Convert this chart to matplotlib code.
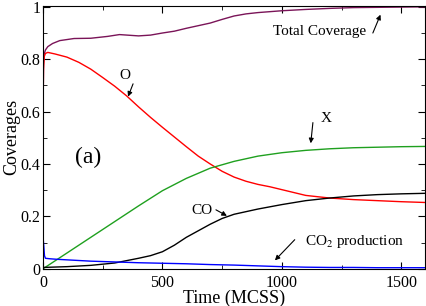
import matplotlib
matplotlib.use("Agg")
import matplotlib.pyplot as plt
from matplotlib.ticker import MultipleLocator

plt.rcParams['font.family'] = ['Liberation Serif', 'DejaVu Serif']
plt.rcParams['mathtext.fontset'] = 'stix'

# Total coverage
t_total = [0, 2, 5, 10, 20, 40, 70, 130, 200, 270, 320, 400, 450, 500, 550, 600,
           650, 700, 750, 800, 850, 900, 1000, 1100, 1200, 1300, 1400, 1500, 1600]
v_total = [0.58, 0.78, 0.82, 0.835, 0.848, 0.86, 0.871, 0.879, 0.88, 0.887, 0.894,
           0.889, 0.892, 0.9, 0.907, 0.918, 0.928, 0.938, 0.952, 0.965, 0.973, 0.978,
           0.985, 0.99, 0.994, 0.997, 0.998, 0.999, 1.0]

# O coverage
t_o = [0, 2, 5, 10, 20, 50, 100, 150, 200, 250, 300, 350, 400, 450, 500, 550, 600,
       650, 700, 750, 800, 850, 900, 950, 1000, 1100, 1200, 1300, 1400, 1500, 1600]
v_o = [0.58, 0.76, 0.81, 0.822, 0.826, 0.82, 0.808, 0.788, 0.762, 0.73, 0.697,
       0.66, 0.618, 0.578, 0.54, 0.503, 0.466, 0.43, 0.40, 0.372, 0.35, 0.334,
       0.322, 0.313, 0.302, 0.28, 0.27, 0.264, 0.26, 0.256, 0.253]

# X coverage
t_x = [0, 100, 200, 300, 400, 500, 600, 700, 800, 900, 1000, 1100, 1200, 1300,
       1400, 1500, 1600]
v_x = [0.0, 0.06, 0.12, 0.18, 0.24, 0.298, 0.345, 0.384, 0.41, 0.43, 0.443, 0.452,
       0.458, 0.462, 0.464, 0.466, 0.467]

# CO coverage
t_co = [0, 100, 200, 300, 400, 450, 500, 550, 600, 650, 700, 750, 800, 900, 1000,
        1100, 1200, 1300, 1400, 1500, 1600]
v_co = [0.005, 0.008, 0.013, 0.022, 0.04, 0.05, 0.065, 0.09, 0.12, 0.145, 0.17,
        0.192, 0.208, 0.228, 0.245, 0.26, 0.27, 0.278, 0.283, 0.286, 0.288]

# CO2 production
t_co2 = [0, 3, 6, 10, 30, 60, 100, 200, 300, 400, 500, 600, 700, 800, 900, 1000,
         1100, 1200, 1300, 1400, 1500, 1600]
v_co2 = [0.122, 0.09, 0.05, 0.04, 0.038, 0.036, 0.034, 0.029, 0.026, 0.023, 0.021,
         0.019, 0.016, 0.014, 0.011, 0.008, 0.006, 0.005, 0.005, 0.004, 0.004, 0.004]

fig = plt.figure(figsize=(4.26, 3.06), dpi=100)
ax = fig.add_axes([0.101, 0.12, 0.897, 0.862])

ax.plot(t_total, v_total, color='#7a1458', lw=1)
ax.plot(t_o, v_o, color='#ff0000', lw=1)
ax.plot(t_x, v_x, color='#1fa01f', lw=1)
ax.plot(t_co, v_co, color='#000000', lw=1)
ax.plot(t_co2, v_co2, color='#0000ff', lw=1)

ax.set_xlim(0, 1600)
ax.set_ylim(-0.002, 1.005)
ax.xaxis.set_major_locator(MultipleLocator(500))
ax.xaxis.set_minor_locator(MultipleLocator(250))
ax.yaxis.set_minor_locator(MultipleLocator(0.1))
ax.set_yticks([0, 0.2, 0.4, 0.6, 0.8, 1.0])
ax.set_yticklabels(['0', '0.2', '0.4', '0.6', '0.8', '1'])
ax.tick_params(which='both', direction='in', top=True, right=True, labelsize=11.5)
ax.tick_params(axis='x', pad=4)
ax.tick_params(axis='y', pad=2)
ax.tick_params(which='major', length=5)
ax.tick_params(which='minor', length=3)

ax.set_xlabel('Time (MCSS)', fontsize=13, labelpad=-1)
ax.set_ylabel('Coverages', fontsize=13, labelpad=0)

arrow = dict(arrowstyle='-|>', color='k', lw=0.8, mutation_scale=7, shrinkA=0, shrinkB=0)
ax.text(188, 0.426, '(a)', fontsize=17, ha='center', va='center')
ax.text(1159, 0.907, 'Total Coverage', fontsize=11, ha='center', va='center')
ax.annotate('', xy=(1413, 0.970), xytext=(1381, 0.900), arrowprops=arrow)
ax.text(343, 0.736, 'O', fontsize=11, ha='center', va='center')
ax.annotate('', xy=(356, 0.657), xytext=(377, 0.706), arrowprops=arrow)
ax.text(1184, 0.573, 'X', fontsize=11, ha='center', va='center')
ax.annotate('', xy=(1121, 0.479), xytext=(1130, 0.558), arrowprops=arrow)
ax.text(665, 0.221, 'CO', fontsize=11, ha='center', va='center')
ax.annotate('', xy=(770, 0.202), xytext=(724, 0.225), arrowprops=arrow)
ax.text(1096, 0.104, 'CO$_2$ production', fontsize=11, ha='left', va='center')
ax.annotate('', xy=(971, 0.032), xytext=(1054, 0.111), arrowprops=arrow)

fig.savefig('out.png', dpi=100)
